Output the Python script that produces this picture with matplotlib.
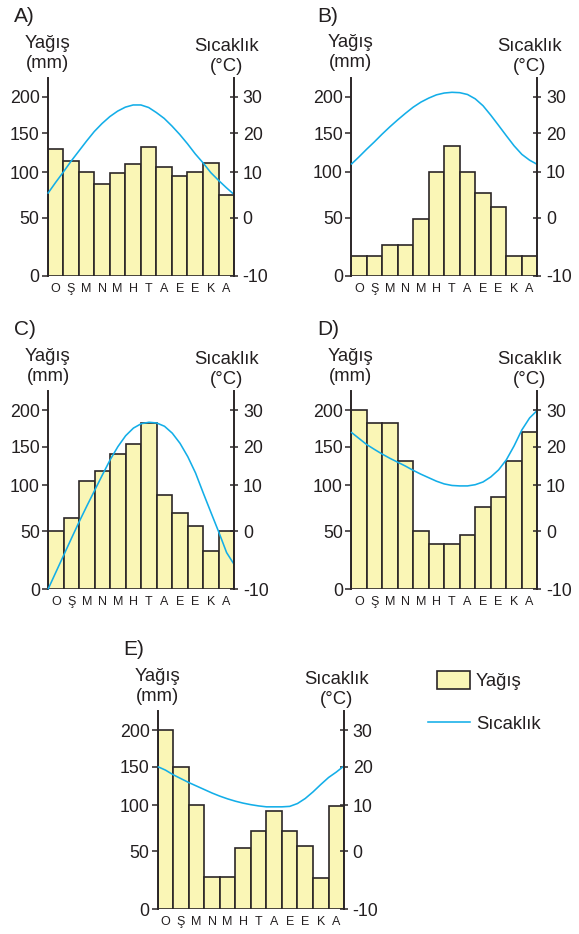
import numpy as np
import matplotlib
matplotlib.use('Agg')
import matplotlib.pyplot as plt
from matplotlib.patches import Patch, Rectangle
from matplotlib.lines import Line2D
from matplotlib.legend_handler import HandlerPatch
from matplotlib.ticker import NullLocator

plt.rcParams['font.family'] = ['Liberation Sans', 'DejaVu Sans']
plt.rcParams['axes.unicode_minus'] = False

# ---------------- data ----------------
months = ['O', 'Ş', 'M', 'N', 'M', 'H', 'T', 'A', 'E', 'E', 'K', 'A']
rain_ticks = [0, 50, 100, 150, 200]
temp_ticks = [-10, 0, 10, 20, 30]
# temperature read every half month (from left edge to right edge of the chart)
temp_pos = [-0.5, 0.0, 0.5, 1.0, 1.5, 2.0, 2.5, 3.0, 3.5, 4.0, 4.5, 5.0, 5.5,
            6.0, 6.5, 7.0, 7.5, 8.0, 8.5, 9.0, 9.5, 10.0, 10.5, 11.0, 11.5]

rain_A = [130, 115, 100, 87, 99, 111, 133, 107, 96, 100, 112, 75]
temp_A = [5.3, 7.7, 10.0, 12.8, 15.4, 18.0, 20.5, 22.7, 24.6, 26.1, 27.2, 27.8, 27.8,
          27.1, 25.7, 24.1, 22.0, 19.7, 17.3, 14.7, 12.4, 9.9, 8.2, 6.6, 5.1]
rain_B = [17, 17, 26, 26, 49, 100, 133, 100, 77, 62, 17, 17]
temp_B = [11.9, 13.8, 15.8, 17.7, 19.7, 21.7, 23.6, 25.4, 27.1, 28.5, 29.6, 30.5, 31.0,
          31.2, 31.1, 30.6, 29.4, 27.5, 24.9, 22.1, 19.3, 16.7, 14.5, 13.0, 11.9]
rain_C = [50, 64, 106, 119, 141, 154, 183, 90, 70, 56, 33, 50]
temp_C = [-10.0, -7.1, -4.2, -1.3, 2.0, 5.5, 8.9, 12.7, 16.6, 20.0, 23.0, 25.1, 26.3,
          26.7, 26.5, 25.6, 23.7, 20.9, 17.4, 13.2, 8.3, 4.0, -0.2, -3.7, -5.8]
rain_D = [200, 183, 183, 131, 50, 39, 39, 47, 76, 87, 131, 170]
temp_D = [24.0, 22.3, 20.6, 19.3, 18.1, 17.0, 16.0, 15.0, 13.9, 12.9, 12.0, 11.1, 10.4,
          10.0, 9.9, 9.9, 10.2, 10.9, 12.2, 14.0, 16.6, 20.2, 24.6, 27.9, 30.0]
rain_E = [200, 150, 100, 28, 28, 53, 72, 94, 72, 56, 27, 99]
temp_E = [20.0, 19.1, 17.9, 16.9, 15.9, 15.0, 14.1, 13.2, 12.4, 11.7, 11.1, 10.6, 10.2,
          9.9, 9.7, 9.7, 9.7, 9.8, 10.5, 11.8, 13.5, 15.4, 17.2, 18.6, 20.2]

# ---------------- style / scale ----------------
W, H = 579, 934
FILL = '#faf6b6'
EDGE = '#2b2627'
LINE = '#13aee8'
TXT = '#231f20'

# the printed axis is not evenly spaced: piecewise-linear scale
NODES_V = [-100, 0, 50, 100, 150, 200, 400]
NODES_P = [-0.65, 0.0, 0.325, 0.58, 0.797, 1.0, 1.812]


def fwd(v):
    return np.interp(v, NODES_V, NODES_P)


def inv(p):
    return np.interp(p, NODES_P, NODES_V)


def tfwd(t):
    return fwd((np.asarray(t, dtype=float) + 10.0) * 5.0)


def tinv(p):
    return inv(p) / 5.0 - 10.0


AXW, AXH = 186.4, 198.0
YTOP = 226.1

fig = plt.figure(figsize=(W / 100, H / 100), dpi=100)


def panel(letter, left_px, zero_px, rain, temp):
    ax = fig.add_axes([left_px / W, (H - zero_px) / H, AXW / W, AXH / H])
    ax.set_yscale('function', functions=(fwd, inv))
    ax.set_ylim(0, YTOP)
    ax.set_xlim(-0.5, 11.5)
    ax.bar(np.arange(len(rain)), rain, width=1.0, color=FILL, edgecolor=EDGE,
           linewidth=1.2, zorder=2)
    ax.set_yticks(rain_ticks)
    ax.set_yticklabels([str(v) for v in rain_ticks])
    ax.yaxis.set_minor_locator(NullLocator())
    ax.tick_params(axis='y', direction='out', length=4.3, width=1.1, pad=1.5,
                   labelsize=12.8, colors=EDGE, labelcolor=TXT)
    ax.set_xticks(np.arange(len(months)))
    ax.set_xticklabels(months, fontsize=9, color=TXT)
    ax.tick_params(axis='x', length=0, pad=5.0)
    for s in ('top', 'bottom', 'right'):
        ax.spines[s].set_visible(False)
    ax.spines['left'].set_linewidth(1.4)
    ax.spines['left'].set_color(EDGE)

    ax2 = ax.twinx()
    ax2.set_yscale('function', functions=(tfwd, tinv))
    ax2.set_ylim(-10, YTOP / 5 - 10)
    ax2.plot(temp_pos, temp, color=LINE, lw=1.15, solid_capstyle='butt',
             solid_joinstyle='round', clip_on=False)
    ax2.set_yticks(temp_ticks)
    ax2.set_yticklabels([str(v) for v in temp_ticks])
    ax2.yaxis.set_minor_locator(NullLocator())
    ax2.tick_params(axis='y', direction='inout', length=6.3, width=1.1, pad=3.0,
                    labelsize=12.8, colors=EDGE, labelcolor=TXT)
    for s in ('top', 'bottom', 'left'):
        ax2.spines[s].set_visible(False)
    ax2.spines['right'].set_linewidth(1.4)
    ax2.spines['right'].set_color(EDGE)

    kw = dict(xycoords='axes fraction', textcoords='offset pixels', va='baseline',
              color=TXT, annotation_clip=False)
    ax.annotate('Yağış', xy=(0, 1), xytext=(0, 30.5), ha='center', fontsize=13.3, **kw)
    ax.annotate('(mm)', xy=(0, 1), xytext=(0, 10.5), ha='center', fontsize=13.3, **kw)
    ax.annotate('Sıcaklık', xy=(1, 1), xytext=(-7.5, 27), ha='center', fontsize=13.3, **kw)
    ax.annotate('(°C)', xy=(1, 1), xytext=(-7.5, 7), ha='center', fontsize=13.3, **kw)
    ax.annotate(letter + ')', xy=(0, 1), xytext=(-34, 56), ha='left', fontsize=15, **kw)
    return ax


panel('A', 47.7, 276.0, rain_A, temp_A)
panel('B', 351.0, 275.7, rain_B, temp_B)
panel('C', 48.0, 589.3, rain_C, temp_C)
panel('D', 351.0, 589.3, rain_D, temp_D)
panel('E', 157.7, 909.3, rain_E, temp_E)


def rect_func(legend, orig_handle, xdescent, ydescent, width, height, fontsize):
    w = 23.8
    h = 12.5
    return Rectangle(xy=(-xdescent + width - w, -ydescent + (height - h) / 2),
                     width=w, height=h)


handles = [Patch(facecolor=FILL, edgecolor=EDGE, linewidth=1.2, label='Yağış'),
           Line2D([], [], color=LINE, lw=1.15, label='Sıcaklık')]
fig.legend(handles=handles, loc='upper left', bbox_to_anchor=(428 / W, 1 - 672 / H),
           frameon=False, fontsize=13.3, handlelength=2.27, handleheight=0.94,
           handletextpad=0.33, labelspacing=1.35, borderpad=0, borderaxespad=0,
           labelcolor=TXT, handler_map={Patch: HandlerPatch(patch_func=rect_func)})

fig.savefig('out.png', dpi=100, facecolor='white')
